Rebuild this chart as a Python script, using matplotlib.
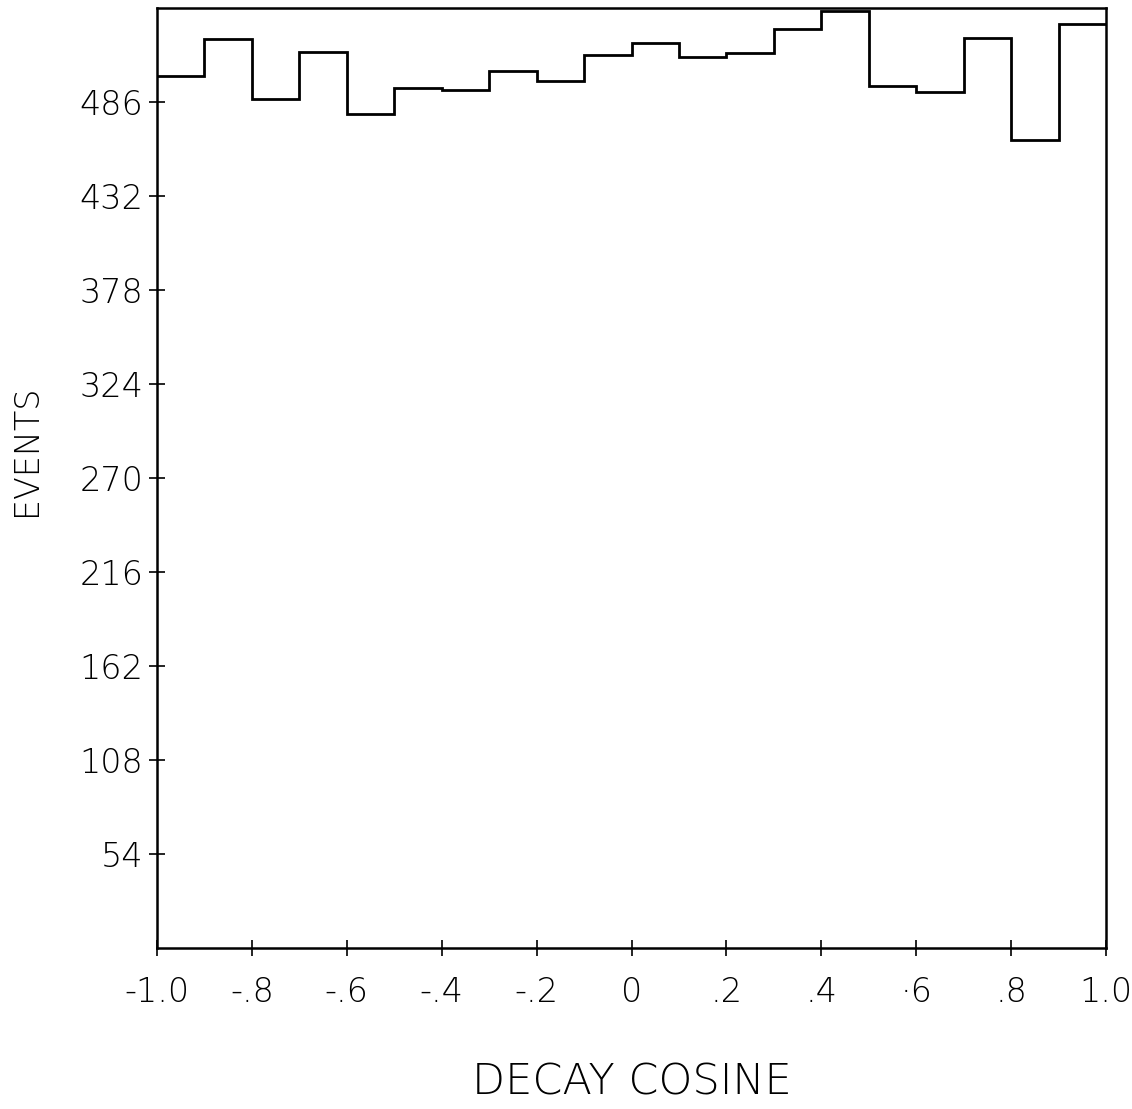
import matplotlib
matplotlib.use("Agg")
import matplotlib.pyplot as plt
import numpy as np

bin_edges = [-1.0, -0.9, -0.8, -0.7, -0.6, -0.5, -0.4, -0.3, -0.2, -0.1, 0.0,
             0.1, 0.2, 0.3, 0.4, 0.5, 0.6, 0.7, 0.8, 0.9, 1.0]
counts = [501, 522, 488, 515, 479, 494, 493, 504, 498, 513,
          520, 512, 514, 528, 538, 495, 492, 523, 464, 531]
y_ticks = [54, 108, 162, 216, 270, 324, 378, 432, 486]
x_ticks = [-1.0, -0.8, -0.6, -0.4, -0.2, 0.0, 0.2, 0.4, 0.6, 0.8, 1.0]
x_tick_labels = ["-1.0", "-.8", "-.6", "-.4", "-.2", "0", ".2", ".4", "\u00b76", ".8", "1.0"]

plt.rcParams['font.family'] = ['DejaVu Sans']
fig = plt.figure(figsize=(11.32, 11.09), dpi=100)
ax = fig.add_axes([157/1132, 1 - 948/1109, (1106-157)/1132, (948-8)/1109])

ax.stairs(counts, bin_edges, color='black', linewidth=2.0, baseline=None)

ax.set_xlim(-1.0, 1.0)
ax.set_ylim(0, 540)
ax.set_yticks(y_ticks)
ax.set_yticklabels([str(v) for v in y_ticks], fontsize=24, fontweight='light')
ax.set_xticks(x_ticks)
ax.set_xticklabels(x_tick_labels, fontsize=24, fontweight='light')
ax.tick_params(axis='y', direction='inout', length=12, width=1.2, pad=4)
ax.tick_params(axis='x', direction='inout', length=12, width=1.2, pad=14)
for s in ax.spines.values():
    s.set_linewidth(1.8)

ax.set_ylabel("EVENTS", fontsize=24, fontweight='light')
ax.set_xlabel("DECAY COSINE", fontsize=31, fontweight='light', labelpad=38)
ax.yaxis.set_label_coords(-0.12, 0.53)

fig.savefig("out.png", dpi=100)
